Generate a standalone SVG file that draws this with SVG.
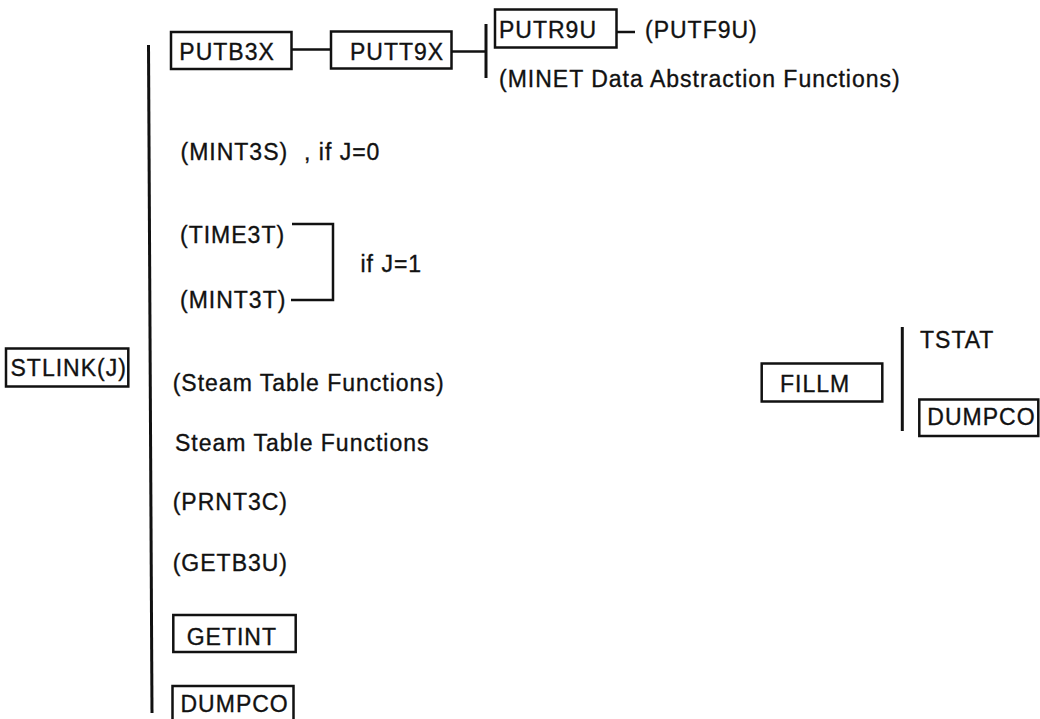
<svg xmlns="http://www.w3.org/2000/svg" width="1040" height="719" viewBox="0 0 1040 719">
<style>
text{font-family:"Liberation Sans",Arial,sans-serif;font-size:23px;letter-spacing:1px;fill:#111;stroke:#111;stroke-width:0.35}
.box{fill:none;stroke:#111;stroke-width:2.5}
.ln{fill:none;stroke:#111;stroke-width:2.5}
.bar{fill:none;stroke:#111;stroke-width:3}
</style>
<rect width="1040" height="719" fill="#fff"/>
<g id="connectors">
<line class="bar" x1="148.5" y1="45" x2="152" y2="713"/>
<line class="ln" x1="291.5" y1="49.5" x2="331" y2="49.5"/>
<line class="ln" x1="451.5" y1="51.5" x2="486" y2="51.5"/>
<line class="bar" x1="486" y1="24" x2="486" y2="78"/>
<line class="ln" x1="617" y1="32" x2="635" y2="32"/>
<polyline class="ln" points="292,224 333,224 333,300 291,300"/>
<line class="bar" x1="902.3" y1="327" x2="902.3" y2="431"/>
</g>
<g id="stlink"><rect class="box" x="6" y="348.5" width="122.3" height="38"/><text x="10.5" y="376">STLINK(J)</text></g>
<g id="putb3x"><rect class="box" x="171" y="32" width="120.5" height="37"/><text x="179.3" y="60">PUTB3X</text></g>
<g id="putt9x"><rect class="box" x="331" y="31.5" width="120.5" height="37"/><text x="350" y="60">PUTT9X</text></g>
<g id="putr9u"><rect class="box" x="495" y="9.5" width="121.5" height="38"/><text x="499" y="37.5">PUTR9U</text></g>
<g id="putf9u"><text x="645" y="37.5">(PUTF9U)</text></g>
<g id="minet"><text x="499" y="86.5">(MINET Data Abstraction Functions)</text></g>
<g id="mint3s"><text x="180.5" y="160">(MINT3S)</text><text x="304" y="160">, if J=0</text></g>
<g id="time3t"><text x="180" y="243">(TIME3T)</text></g>
<g id="mint3t"><text x="180" y="308">(MINT3T)</text></g>
<g id="ifj1"><text x="360.5" y="271.5">if J=1</text></g>
<g id="steam1"><text x="172.7" y="390.7">(Steam Table Functions)</text></g>
<g id="steam2"><text x="175" y="450.7">Steam Table Functions</text></g>
<g id="prnt3c"><text x="172.7" y="510">(PRNT3C)</text></g>
<g id="getb3u"><text x="172.7" y="570.5">(GETB3U)</text></g>
<g id="getint"><rect class="box" x="173.3" y="615" width="122.4" height="37"/><text x="186.7" y="645">GETINT</text></g>
<g id="dumpco1"><rect class="box" x="172.5" y="686" width="121" height="40"/><text x="180.5" y="712">DUMPCO</text></g>
<g id="fillm"><rect class="box" x="761.7" y="363.5" width="120.6" height="38"/><text x="780" y="391.7">FILLM</text></g>
<g id="tstat"><text x="920" y="347.7">TSTAT</text></g>
<g id="dumpco2"><rect class="box" x="919.3" y="399.5" width="119" height="36.5"/><text x="927.3" y="425">DUMPCO</text></g>
</svg>
